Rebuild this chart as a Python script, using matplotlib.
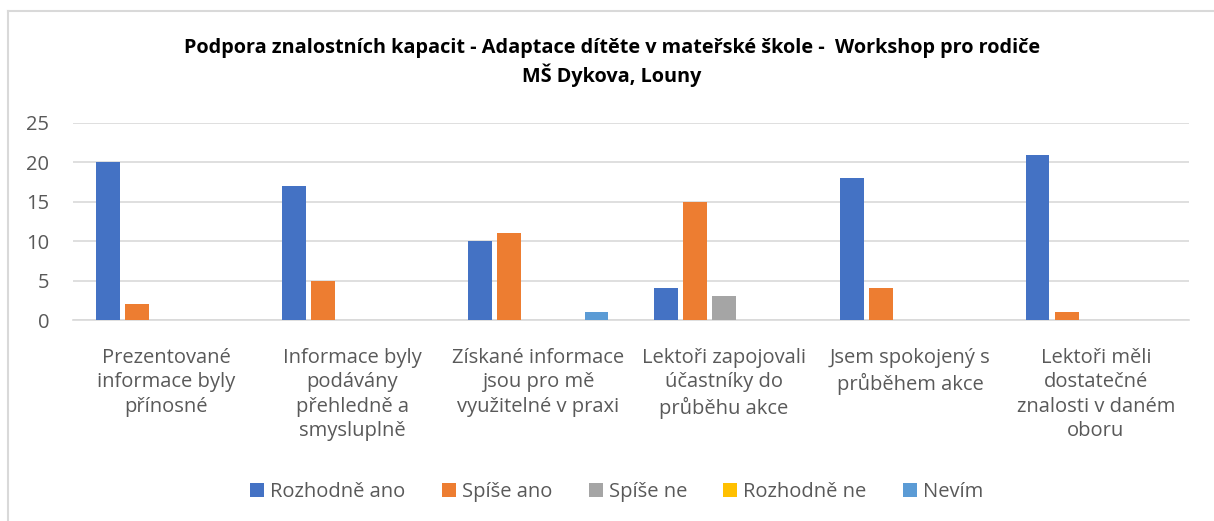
import matplotlib.pyplot as plt
import numpy as np

plt.rcParams['font.family'] = ['Open Sans', 'DejaVu Sans']

title = ("Podpora znalostních kapacit - Adaptace dítěte v mateřské škole -  Workshop pro rodiče\n"
         "MŠ Dykova, Louny")

categories = [
    "Prezentované\ninformace byly\npřínosné",
    "Informace byly\npodávány\npřehledně a\nsmysluplně",
    "Získané informace\njsou pro mě\nvyužitelné v praxi",
    "Lektoři zapojovali\núčastníky do\nprůběhu akce",
    "Jsem spokojený s\nprůběhem akce",
    "Lektoři měli\ndostatečné\nznalosti v daném\noboru",
]

series_names = ["Rozhodně ano", "Spíše ano", "Spíše ne", "Rozhodně ne", "Nevím"]
rozhodne_ano = [20, 17, 10, 4, 18, 21]
spise_ano = [2, 5, 11, 15, 4, 1]
spise_ne = [0, 0, 0, 3, 0, 0]
rozhodne_ne = [0, 0, 0, 0, 0, 0]
nevim = [0, 0, 1, 0, 0, 0]
series = [rozhodne_ano, spise_ano, spise_ne, rozhodne_ne, nevim]
colors = ['#4472C4', '#ED7D31', '#A5A5A5', '#FFC000', '#5B9BD5']

fig = plt.figure(figsize=(12.14, 5.21), dpi=100)
ax = fig.add_axes([73 / 1214, 1 - 320 / 521, (1189 - 73) / 1214, (320 - 123) / 521])

x = np.arange(len(categories))
step = 0.156
width = 0.124
handles = []
for i, (vals, col) in enumerate(zip(series, colors)):
    b = ax.bar(x + (i - 2) * step, vals, width, color=col, label=series_names[i],
               zorder=3)
    handles.append(b)

ax.set_xlim(-0.5, len(categories) - 0.5)
ax.set_ylim(0, 25)
ax.set_yticks([0, 5, 10, 15, 20, 25])
ax.yaxis.grid(True, color='#D9D9D9', linewidth=1.2, zorder=0)
for s in ['top', 'right', 'left']:
    ax.spines[s].set_visible(False)
ax.spines['bottom'].set_color('#D9D9D9')
ax.spines['bottom'].set_linewidth(1.2)
ax.set_xticks(x)
ax.set_xticklabels(categories, fontsize=14.5, color='#595959', linespacing=1.3)
ax.tick_params(axis='x', length=0, pad=20)
ax.tick_params(axis='y', length=0, labelsize=14.5, labelcolor='#595959', pad=17)

fig.text(0.504, 0.880, title, ha='center', va='center', fontsize=14.3,
         fontweight='bold', color='black', linespacing=1.3)

fig.legend(handles=handles, loc='center', bbox_to_anchor=(0.508, 0.056), ncol=5,
           frameon=False, fontsize=14.5, handlelength=0.7, handleheight=0.7,
           handletextpad=0.3, columnspacing=1.8, labelcolor='#595959')

# chart frame (left and top edges visible)
fig.add_artist(plt.Line2D([8 / 1214, 8 / 1214], [0, 1 - 11 / 521], color='#D9D9D9',
                          linewidth=1.5, transform=fig.transFigure))
fig.add_artist(plt.Line2D([8 / 1214, 1], [1 - 11 / 521, 1 - 11 / 521], color='#D9D9D9',
                          linewidth=1.5, transform=fig.transFigure))

fig.savefig('out.png', dpi=100)
